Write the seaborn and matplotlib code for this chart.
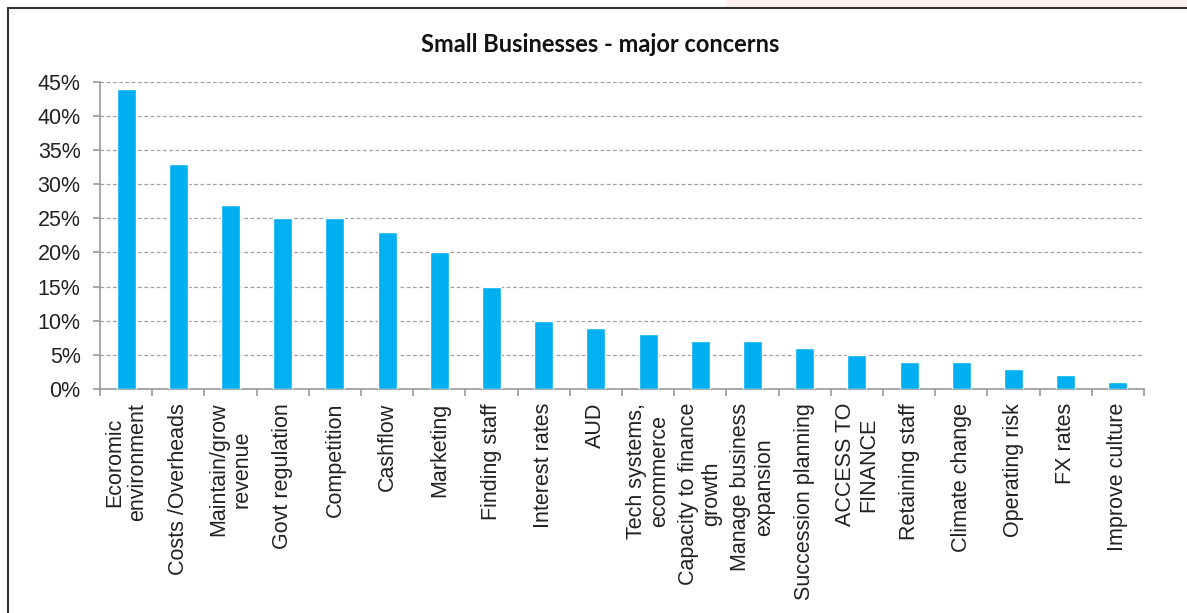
import matplotlib
matplotlib.use("Agg")
import matplotlib.pyplot as plt
import seaborn as sns
import pandas as pd
from matplotlib.ticker import FuncFormatter, FixedLocator
from matplotlib.patches import Rectangle
from matplotlib.lines import Line2D

categories = [
    "Ecoromic\nenvironment", "Costs /Overheads", "Maintain/grow\nrevenue",
    "Govt regulation", "Competition", "Cashflow", "Marketing", "Finding staff",
    "Interest rates", "AUD", "Tech systems,\necommerce", "Capacity to finance\ngrowth",
    "Manage business\nexpansion", "Succession planning", "ACCESS TO\nFINANCE",
    "Retaining staff", "Climate change", "Operating risk", "FX rates", "Improve culture",
]
values = [0.44, 0.33, 0.27, 0.25, 0.25, 0.23, 0.20, 0.15, 0.10, 0.09,
          0.08, 0.07, 0.07, 0.06, 0.05, 0.04, 0.04, 0.03, 0.02, 0.01]
yticks = [0, 0.05, 0.10, 0.15, 0.20, 0.25, 0.30, 0.35, 0.40, 0.45]

df = pd.DataFrame({"concern": categories, "share": values})

sns.set_theme(style="white")
plt.rcParams["font.family"] = ["Liberation Sans", "DejaVu Sans"]

fig = plt.figure(figsize=(11.87, 6.13), dpi=100)
ax = fig.add_axes([100 / 1187, 1 - 389 / 613, (1144 - 100) / 1187, (389 - 81.7) / 613])

sns.barplot(data=df, x="concern", y="share", color="#00B0F0", width=0.365,
            saturation=1, ax=ax, zorder=3)

ax.set_ylim(0, 0.45)
ax.set_xlim(-0.5, len(categories) - 0.5)
ax.set_yticks(yticks)
ax.yaxis.set_major_formatter(FuncFormatter(lambda v, p: f"{round(v * 100)}%"))
ax.set_xlabel("")
ax.set_ylabel("")

ax.yaxis.grid(True, linestyle=(0, (3, 2)), color="#a0a0a0", linewidth=0.9, zorder=0)
ax.xaxis.grid(False)
for s in ["top", "right"]:
    ax.spines[s].set_visible(False)
for s in ["left", "bottom"]:
    ax.spines[s].set_color("#9a9a9a")
    ax.spines[s].set_linewidth(1.2)

ax.tick_params(axis="y", which="major", direction="out", length=5, width=1.2,
               color="#9a9a9a", pad=9, labelsize=15.5, labelcolor="#222222", left=True)
ax.set_xticks(range(len(categories)))
ax.set_xticklabels(categories, rotation=90, ha="center", va="top",
                   multialignment="center", fontsize=15.5, color="#222222",
                   linespacing=1.15)
ax.tick_params(axis="x", which="major", length=0, pad=10)
ax.xaxis.set_minor_locator(FixedLocator([i - 0.5 for i in range(len(categories) + 1)]))
ax.tick_params(axis="x", which="minor", direction="out", length=5, width=1.2,
               color="#9a9a9a", bottom=True)

fig.text(0.5 * (420 + 780) / 1187, 1 - 45 / 613, "Small Businesses - major concerns",
         ha="center", va="center", fontsize=17, fontweight="bold",
         family=["Lato", "DejaVu Sans"], color="#111111")

# chart frame and background strip
fig.patches.append(Rectangle((726 / 1187, 1 - 7.5 / 613), 1, 7.5 / 613,
                             transform=fig.transFigure, facecolor="#FDF1EF",
                             edgecolor="none", zorder=0))
fig.lines.append(Line2D([8 / 1187, 1], [1 - 7.5 / 613, 1 - 7.5 / 613],
                        transform=fig.transFigure, color="#333333", linewidth=1.5))
fig.lines.append(Line2D([8 / 1187, 8 / 1187], [0, 1 - 7.5 / 613],
                        transform=fig.transFigure, color="#333333", linewidth=1.5))

fig.savefig("out.png", dpi=100)
